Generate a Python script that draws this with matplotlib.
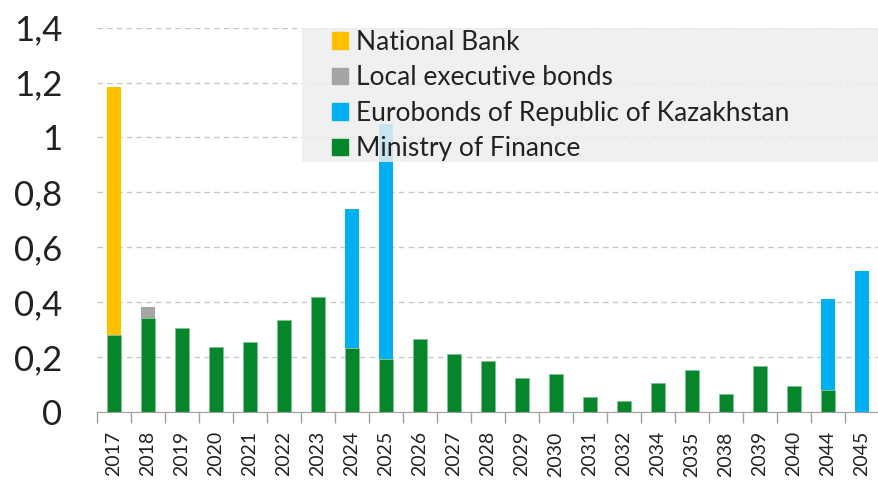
import matplotlib.pyplot as plt
import numpy as np
from matplotlib.patches import Patch, Rectangle

years = ["2017", "2018", "2019", "2020", "2021", "2022", "2023", "2024", "2025", "2026",
         "2027", "2028", "2029", "2030", "2031", "2032", "2034", "2035", "2038", "2039",
         "2040", "2044", "2045"]
ministry = [0.28, 0.34, 0.306, 0.235, 0.253, 0.333, 0.418, 0.233, 0.193, 0.264,
            0.21, 0.185, 0.124, 0.136, 0.055, 0.038, 0.103, 0.153, 0.066, 0.167,
            0.094, 0.08, 0.0]
national_bank = [0.903] + [0.0] * 22
local_exec = [0.0, 0.042] + [0.0] * 21
eurobonds = [0.0] * 7 + [0.505, 0.855] + [0.0] * 12 + [0.33, 0.513]
yticks = [0, 0.2, 0.4, 0.6, 0.8, 1.0, 1.2, 1.4]
ytick_labels = ["0", "0,2", "0,4", "0,6", "0,8", "1", "1,2", "1,4"]

c_green = "#05862a"
c_yellow = "#ffc000"
c_gray = "#a5a5a5"
c_blue = "#00b0f0"
txt = "#222222"

plt.rcParams['font.family'] = ['Lato', 'DejaVu Sans']

fig = plt.figure(figsize=(8.79, 4.83), dpi=100)
ax = fig.add_axes([97 / 879, (483 - 411.7) / 483, (879 - 97) / 879, (411.7 - 27.7) / 483])

x = np.arange(len(years))
w = 0.43
m = np.array(ministry)
ax.bar(x, m, w, color=c_green, edgecolor="#7fc28f", linewidth=0.6, zorder=3)
ax.bar(x, national_bank, w, bottom=m, color=c_yellow, zorder=3)
ax.bar(x, local_exec, w, bottom=m, color=c_gray, zorder=3)
ax.bar(x, eurobonds, w, bottom=m, color=c_blue, zorder=3)

ax.set_xlim(-0.5, len(years) - 0.5)
ax.set_ylim(0, 1.4)
ax.set_yticks(yticks)
ax.set_yticklabels(ytick_labels, fontsize=25, color=txt)
ax.tick_params(axis='y', length=0, pad=25)
ax.set_xticks(x)
ax.set_xticklabels(years, rotation=90, fontsize=14, color=txt)
ax.set_xticks(np.arange(-0.5, len(years), 1), minor=True)
ax.tick_params(axis='x', which='major', length=0, pad=14)
ax.tick_params(axis='x', which='minor', length=8, color="#a0a0a0", width=1)

ax.grid(axis='y', linestyle=(0, (4, 3)), color="#c8c8c8", linewidth=1, zorder=0)
for s in ["top", "right", "left"]:
    ax.spines[s].set_visible(False)
ax.spines["bottom"].set_color("#a0a0a0")
ax.spines["bottom"].set_zorder(4)

# grey box behind the legend
bx0 = (302 - 97) / 782
by0 = (411.7 - 162) / 384
ax.add_patch(Rectangle((bx0, by0), 1.02 - bx0, 1.0 - by0, transform=ax.transAxes,
                       facecolor="#eeeeee", edgecolor="none", alpha=0.85, zorder=5,
                       clip_on=False))

handles = [Patch(color=c_yellow), Patch(color=c_gray), Patch(color=c_blue), Patch(color=c_green)]
labels = ["National Bank", "Local executive bonds", "Eurobonds of Republic of Kazakhstan", "Ministry of Finance"]
leg = ax.legend(handles, labels, loc="upper left", bbox_to_anchor=((332 - 97) / 782, 1.0 - 2 / 384),
                frameon=False, borderaxespad=0, borderpad=0,
                handlelength=0.6, handleheight=0.6, handletextpad=0.3,
                labelspacing=0.4, prop={'size': 19}, labelcolor=txt)
leg.set_zorder(6)

fig.savefig("out.png", dpi=100)
